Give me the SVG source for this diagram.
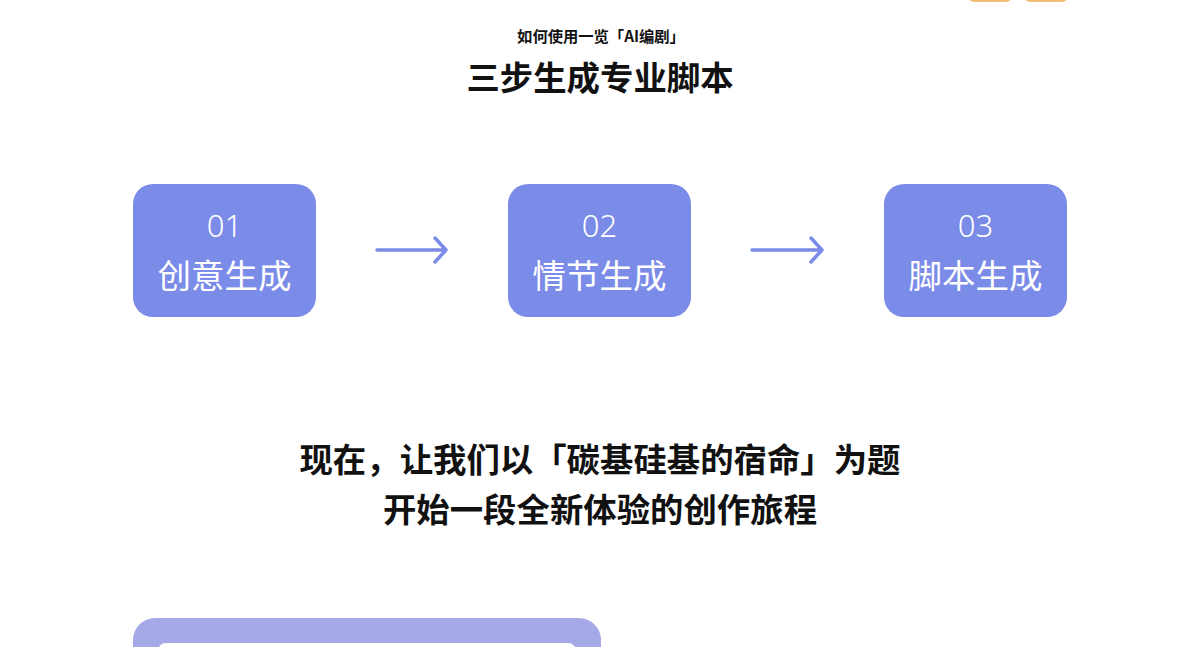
<svg xmlns="http://www.w3.org/2000/svg" width="1200" height="647" viewBox="0 0 1200 647">
<style>
.t{font-family:"Noto Sans CJK SC","Noto Sans",sans-serif;text-anchor:middle;fill:#111}
.box{fill:#7b8be8}
.num{font-family:"Noto Sans","Noto Sans CJK SC",sans-serif;font-weight:300;font-size:31px;fill:#fff;text-anchor:middle}
.lbl{font-family:"Noto Sans CJK SC",sans-serif;font-size:33.5px;fill:#fff;text-anchor:middle}
.arr{stroke:#7b8be8;stroke-width:3.5;fill:none;stroke-linecap:round;stroke-linejoin:round}
.tag{fill:#fff7ec;stroke:#f2bb78;stroke-width:2}
</style>
<rect width="1200" height="647" fill="#fff"/>
<rect class="tag" x="969" y="-20" width="42" height="21" rx="5"/>
<rect class="tag" x="1025" y="-20" width="42" height="21" rx="5"/>
<text class="t" x="601" y="42" font-size="15.3" font-weight="700">如何使用一览「AI编剧」</text>
<text class="t" x="600" y="90" font-size="33.4" font-weight="700">三步生成专业脚本</text>
<g id="step1">
<rect class="box" x="133" y="184" width="183" height="133" rx="20"/>
<text class="num" x="224.5" y="237">01</text>
<text class="lbl" x="224.5" y="288">创意生成</text>
</g>
<g id="step2">
<rect class="box" x="508" y="184" width="183" height="133" rx="20"/>
<text class="num" x="599.5" y="237">02</text>
<text class="lbl" x="599.5" y="288">情节生成</text>
</g>
<g id="step3">
<rect class="box" x="884" y="184" width="183" height="133" rx="20"/>
<text class="num" x="975.5" y="237">03</text>
<text class="lbl" x="975.5" y="288">脚本生成</text>
</g>
<g id="connectors">
<path class="arr" d="M377 250H446M435 238L446 250L435 262"/>
<path class="arr" d="M752 250H822M811 238L822 250L811 262"/>
</g>
<text class="t" x="600" y="472" font-size="33.4" font-weight="700">现在，让我们以「碳基硅基的宿命」为题</text>
<text class="t" x="600" y="522" font-size="33.4" font-weight="700">开始一段全新体验的创作旅程</text>
<g id="card">
<rect x="133" y="618" width="468" height="60" rx="22" fill="#a5a9e8"/>
<rect x="158" y="643" width="418" height="40" rx="8" fill="#fff"/>
</g>
</svg>
